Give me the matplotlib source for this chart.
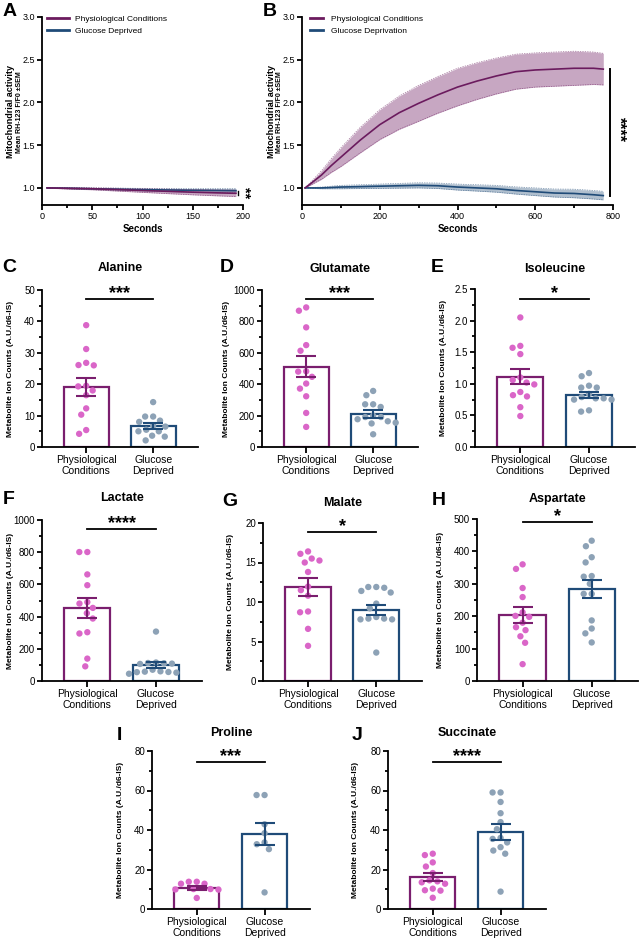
import numpy as np
import matplotlib
matplotlib.use("Agg")
import matplotlib.pyplot as plt
from matplotlib.ticker import MultipleLocator
from matplotlib.lines import Line2D

plt.rcParams['font.family'] = ['Liberation Sans', 'DejaVu Sans']

# ---------------- data ----------------
# Panel A time series (seconds)
tA = [5, 25, 50, 75, 100, 125, 150, 175, 193]
A_pc_mean = [1.0, 0.995, 0.99, 0.98, 0.97, 0.96, 0.95, 0.942, 0.937]
A_pc_sem = [0.003, 0.008, 0.012, 0.017, 0.022, 0.027, 0.031, 0.035, 0.038]
A_gd_mean = [1.0, 0.997, 0.99, 0.985, 0.98, 0.976, 0.972, 0.969, 0.967]
A_gd_sem = [0.003, 0.006, 0.009, 0.012, 0.015, 0.018, 0.021, 0.024, 0.026]

# Panel B time series
tB = [8, 25, 50, 75, 100, 150, 200, 250, 300, 350, 400, 450, 500, 550, 600, 650, 700, 750, 775]
B_pc_mean = [1.0, 1.06, 1.15, 1.26, 1.36, 1.56, 1.74, 1.88, 1.99, 2.09, 2.18, 2.25, 2.31, 2.36, 2.38, 2.39, 2.40, 2.40, 2.39]
B_pc_sem = [0.0, 0.02, 0.05, 0.08, 0.11, 0.15, 0.175, 0.195, 0.21, 0.215, 0.22, 0.215, 0.21, 0.205, 0.2, 0.2, 0.2, 0.19, 0.185]
B_gd_mean = [1.0, 1.0, 1.0, 1.005, 1.01, 1.015, 1.02, 1.025, 1.03, 1.025, 1.01, 1.0, 0.99, 0.97, 0.955, 0.94, 0.935, 0.92, 0.91]
B_gd_sem = [0.0, 0.005, 0.01, 0.015, 0.02, 0.022, 0.025, 0.028, 0.03, 0.032, 0.035, 0.037, 0.04, 0.042, 0.045, 0.047, 0.05, 0.05, 0.05]

groups = ["Physiological\nConditions", "Glucose\nDeprived"]

C_pc = [38.8, 31.2, 26.0, 26.1, 26.8, 19.3, 19.5, 18.0, 16.5, 12.3, 10.3, 5.4, 4.2]
C_gd = [14.3, 9.7, 9.7, 8.4, 8.0, 6.8, 6.5, 5.5, 5.0, 5.0, 3.6, 3.3, 2.1]
C_mean, C_sem = [19.1, 6.7], [2.9, 0.95]

D_pc = [889, 868, 762, 649, 613, 482, 480, 447, 404, 372, 323, 217, 128]
D_gd = [357, 330, 272, 272, 255, 200, 191, 191, 177, 164, 155, 150, 81]
D_mean, D_sem = [511, 210], [66, 24]

E_pc = [2.05, 1.60, 1.57, 1.47, 1.10, 1.06, 1.02, 0.99, 0.87, 0.82, 0.80, 0.63, 0.49]
E_gd = [1.17, 1.12, 0.97, 0.94, 0.94, 0.84, 0.79, 0.77, 0.77, 0.75, 0.75, 0.58, 0.56]
E_mean, E_sem = [1.11, 0.82], [0.12, 0.05]

F_pc = [801, 801, 662, 595, 490, 481, 454, 421, 388, 303, 295, 139, 91]
F_gd = [307, 115, 112, 110, 108, 106, 70, 60, 58, 56, 55, 52, 45]
F_mean, F_sem = [455, 97], [63, 18]

G_pc = [16.4, 16.1, 15.5, 15.25, 15.0, 13.8, 11.95, 11.5, 10.8, 8.8, 8.7, 6.6, 4.45]
G_gd = [11.9, 11.9, 11.8, 11.4, 11.2, 9.8, 9.2, 8.1, 7.9, 7.9, 7.8, 7.8, 3.6]
G_mean, G_sem = [11.9, 9.0], [1.1, 0.65]

H_pc = [360, 346, 287, 259, 212, 201, 198, 180, 166, 157, 138, 118, 52]
H_gd = [433, 416, 382, 366, 324, 322, 300, 269, 269, 187, 162, 147, 119]
H_mean, H_sem = [204, 284], [25, 29]

I_pc = [13.8, 13.8, 12.8, 12.8, 10.1, 10.1, 9.9, 9.8, 5.6]
I_gd = [57.7, 57.7, 42.9, 38.4, 33.7, 32.8, 30.3, 8.4]
I_mean, I_sem = [10.8, 37.8], [0.95, 5.6]

J_pc = [28.0, 27.3, 23.6, 21.5, 18.2, 14.5, 14.0, 13.5, 12.8, 10.3, 9.5, 9.3, 5.7]
J_gd = [59.0, 59.0, 54.2, 48.5, 44.0, 40.4, 36.0, 35.5, 33.7, 31.3, 29.6, 28.0, 8.8]
J_mean, J_sem = [16.0, 38.8], [2.0, 4.0]

# ---------------- style ----------------
PURPLE = '#7A1E6E'
BLUE = '#1F4B78'
PINK_DOT = '#DA66C8'
BLUE_DOT = '#8DA2B6'
PL_LINE = '#6B1B5E'
PL_BAND = '#BD98B8'
BL_LINE = '#1F4B78'
BL_BAND = '#A3B4C6'

W, H = 640, 944
fig = plt.figure(figsize=(6.4, 9.44), dpi=100)


def add_ax(l, t, r, b):
    return fig.add_axes([l / W, 1 - b / H, (r - l) / W, (b - t) / H])


def ftext(x, y, s, **kw):
    fig.text(x / W, 1 - y / H, s, **kw)


def style(ax):
    for s in ['top', 'right']:
        ax.spines[s].set_visible(False)
    for s in ['left', 'bottom']:
        ax.spines[s].set_linewidth(1.3)
    ax.tick_params(which='major', length=3.5, width=1.3, labelsize=7, pad=1.5)
    ax.tick_params(which='minor', length=2, width=1.3)


def swarm_offsets(vals, ypu, xpu, d=8.0):
    ys = [v * ypu for v in vals]
    order = np.argsort(-np.asarray(vals, dtype=float), kind='stable')
    placed = []
    off = np.zeros(len(vals))
    for i in order:
        y = ys[i]
        cands = [0.0]
        for px, py in placed:
            dy = abs(py - y)
            if dy < d:
                dx = np.sqrt(d * d - dy * dy)
                cands += [px - dx, px + dx]
        ok = [c for c in cands
              if all((c - px) ** 2 + (y - py) ** 2 >= d * d - 1e-6 for px, py in placed)]
        best = min(ok, key=lambda c: (round(abs(c), 6), c))
        placed.append((best, y))
        off[i] = best / xpu
    return off


# ---------------- time series ----------------
def ts_panel(box, t, pm, ps, gm, gs, xmax, xmaj, xmin, labels, legw):
    ax = add_ax(*box)
    style(ax)
    t = np.asarray(t)
    for m, s, lc, bc in [(gm, gs, BL_LINE, BL_BAND), (pm, ps, PL_LINE, PL_BAND)]:
        m = np.asarray(m); s = np.asarray(s)
        ax.fill_between(t, m - s, m + s, color=bc, lw=0, alpha=0.85)
        ax.plot(t, m + s, color=lc, lw=0.5, ls=(0, (2, 1.5)), alpha=0.6)
        ax.plot(t, m - s, color=lc, lw=0.5, ls=(0, (2, 1.5)), alpha=0.6)
        ax.plot(t, m, color=lc, lw=1.2)
    ax.set_xlim(0, xmax)
    ax.set_ylim(0.8, 3.0)
    ax.set_yticks([1.0, 1.5, 2.0, 2.5, 3.0])
    ax.xaxis.set_major_locator(MultipleLocator(xmaj))
    ax.xaxis.set_minor_locator(MultipleLocator(xmin))
    ax.tick_params(labelsize=6.5)
    ax.set_xlabel('Seconds', fontsize=7, fontweight='bold', labelpad=2)
    handles = [Line2D([], [], color=PL_LINE, lw=2), Line2D([], [], color=BL_LINE, lw=2)]
    ax.legend(handles, labels, loc='upper left', bbox_to_anchor=(legw[0], 1.012),
              frameon=False, fontsize=6, borderpad=0, borderaxespad=0,
              handlelength=legw[1], handletextpad=legw[2], labelspacing=0.55)
    return ax


axA = ts_panel((42, 17, 243, 205), tA, A_pc_mean, A_pc_sem, A_gd_mean, A_gd_sem,
               200, 50, 25, ["Physiological Conditions", "Glucose Deprived"], (0.025, 2.6, 0.75))
axB = ts_panel((302, 17, 613, 205), tB, B_pc_mean, B_pc_sem, B_gd_mean, B_gd_sem,
               800, 200, 100, ["Physiological Conditions", "Glucose Deprivation"], (0.026, 1.6, 0.95))

# significance A
axA.plot([195, 195], [0.915, 0.96], color='black', lw=1.0, clip_on=False)
axA.text(202, 0.94, '**', rotation=270, ha='center', va='center', fontsize=10.5,
         fontweight='bold', clip_on=False)
# significance B
axB.plot([792, 792], [0.91, 2.39], color='black', lw=1.4, clip_on=False)
axB.text(815, 1.68, '****', rotation=270, ha='center', va='center', fontsize=11.5,
         fontweight='bold', clip_on=False)

for x0 in (11, 271):
    ftext(x0, 112, 'Mitochondrial activity', rotation=90, ha='center', va='center',
          fontsize=6.5, fontweight='bold')
    ftext(x0 + 8.5, 112, 'Mean RH-123 F/F0 \u00b1SEM', rotation=90, ha='center', va='center',
          fontsize=5, fontweight='bold')

ftext(3, 12, 'A', fontsize=14, fontweight='bold', ha='left', va='center')
ftext(263, 12, 'B', fontsize=14, fontweight='bold', ha='left', va='center')


# ---------------- bar panels ----------------
def bar_panel(box, pc, gd, mean, sem, ymax, maj, mnr, stars, line_y, title, title_y,
              letter, letter_xy, ylab_x):
    l, t, r, b = box
    ax = add_ax(*box)
    style(ax)
    ypu = (b - t) / ymax
    xpu = (r - l) / 2.33
    x = [0, 1]
    ax.bar(x, mean, width=0.67, color='white', edgecolor=[PURPLE, BLUE], linewidth=1.6, zorder=1)
    for xi, vals, col in [(0, pc, PINK_DOT), (1, gd, BLUE_DOT)]:
        off = swarm_offsets(vals, ypu, xpu)
        ax.scatter(xi + off, vals, s=21, color=col, edgecolor='none', zorder=2, clip_on=False)
    for xi, m, s, col in zip(x, mean, sem, [PURPLE, BLUE]):
        ax.errorbar([xi], [m], yerr=[s], color=col, lw=1.5, capsize=7, capthick=1.5, zorder=3)
    ax.set_xlim(-0.66, 1.67)
    ax.set_ylim(0, ymax)
    ax.yaxis.set_major_locator(MultipleLocator(maj))
    ax.yaxis.set_minor_locator(MultipleLocator(mnr))
    ax.set_xticks(x)
    ax.set_xticklabels(groups, fontsize=7.5, linespacing=1.05)
    ax.tick_params(axis='x', length=4, pad=2)
    ax.set_ylabel('Metabolite Ion Counts (A.U./d6-IS)', fontsize=6, fontweight='bold')
    ax.yaxis.set_label_coords(-(l - ylab_x) / (r - l), 0.5)
    ax.plot([0, 1], [line_y, line_y], color='black', lw=1.3, clip_on=False)
    ax.annotate(stars, xy=(0.5, line_y), xytext=(0, 0.5), textcoords='offset points',
                ha='center', va='baseline', fontsize=13, fontweight='bold',
                annotation_clip=False)
    ftext((l + r) / 2, title_y, title, ha='center', va='center', fontsize=9, fontweight='bold')
    ftext(letter_xy[0], letter_xy[1], letter, ha='left', va='center', fontsize=14,
          fontweight='bold')
    return ax


bar_panel((42, 290, 198, 447), C_pc, C_gd, C_mean, C_sem, 50, 10, 5, '***', 47.1,
          'Alanine', 268, 'C', (2, 268), 14)
bar_panel((262, 290, 418, 447), D_pc, D_gd, D_mean, D_sem, 1000, 200, 100, '***', 943,
          'Glutamate', 269, 'D', (220, 268), 230)
bar_panel((475, 289, 635, 447), E_pc, E_gd, E_mean, E_sem, 2.5, 0.5, 0.25, '*', 2.34,
          'Isoleucine', 269, 'E', (431, 268), 447)
bar_panel((42, 520, 202, 681), F_pc, F_gd, F_mean, F_sem, 1000, 200, 100, '****', 944,
          'Lactate', 498, 'F', (3, 499), 14)
bar_panel((263, 523, 422, 681), G_pc, G_gd, G_mean, G_sem, 20, 5, 2.5, '*', 18.9,
          'Malate', 503, 'G', (222, 501), 234)
bar_panel((477, 519, 638, 681), H_pc, H_gd, H_mean, H_sem, 500, 100, 50, '*', 491,
          'Aspartate', 499, 'H', (432, 500), 444)
bar_panel((152, 751, 310, 909), I_pc, I_gd, I_mean, I_sem, 80, 20, 10, '***', 74.4,
          'Proline', 733, 'I', (117, 736), 124)
bar_panel((388, 751, 546, 909), J_pc, J_gd, J_mean, J_sem, 80, 20, 10, '****', 74.4,
          'Succinate', 733, 'J', (352, 736), 359)

fig.savefig('out.png', dpi=100)
